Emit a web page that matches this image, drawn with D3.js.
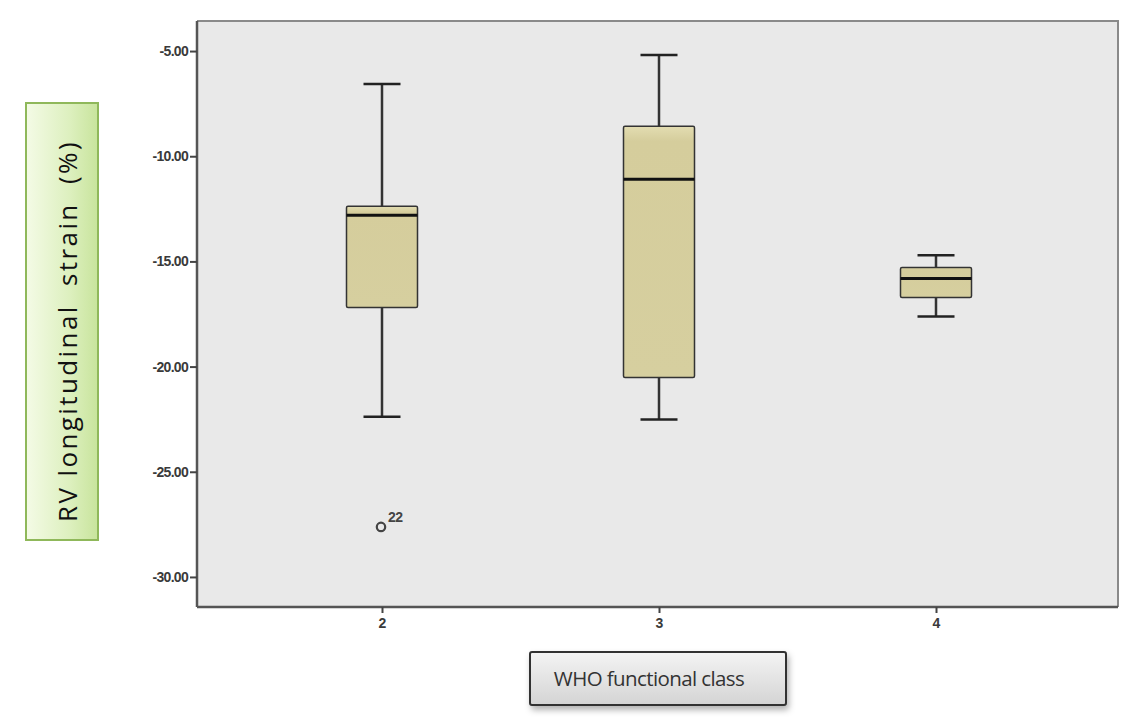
<!DOCTYPE html>
<html>
<head>
<meta charset="utf-8">
<script src="https://cdn.jsdelivr.net/npm/d3@7"></script>
<style>
  html, body { margin: 0; padding: 0; background: #ffffff; }
  svg { display: block; }
</style>
</head>
<body>
<svg id="chart" width="1128" height="723"></svg>
<script>
// ---- Data ----
const categories = ["2", "3", "4"];
const whiskerHigh = [-6.57, -5.19, -14.71];
const q3 = [-12.38, -8.57, -15.29];
const medians = [-12.81, -11.10, -15.81];
const q1 = [-17.19, -20.52, -16.71];
const whiskerLow = [-22.38, -22.52, -17.62];
const outlierCategory = ["2"];
const outlierValue = [-27.62];
const outlierLabel = ["22"];
const yTicks = [-5, -10, -15, -20, -25, -30];
const yTitle = "RV longitudinal  strain  (%)";
const xTitle = "WHO functional class";

// ---- Layout ----
const svg = d3.select("#chart");
const plot = { left: 197, top: 21, right: 1118, bottom: 607 };

const defs = svg.append("defs");
const gGreen = defs.append("linearGradient").attr("id", "gGreen").attr("x1", "0").attr("x2", "1").attr("y1", "0").attr("y2", "0");
gGreen.append("stop").attr("offset", "0%").attr("stop-color", "#f4fbe6");
gGreen.append("stop").attr("offset", "60%").attr("stop-color", "#ddf0bf");
gGreen.append("stop").attr("offset", "100%").attr("stop-color", "#c8e49c");
const gGray = defs.append("linearGradient").attr("id", "gGray").attr("x1", "0").attr("x2", "0").attr("y1", "0").attr("y2", "1");
gGray.append("stop").attr("offset", "0%").attr("stop-color", "#f4f4f4");
gGray.append("stop").attr("offset", "100%").attr("stop-color", "#d4d4d4");
const gBox = defs.append("linearGradient").attr("id", "gBox").attr("x1", "0").attr("x2", "0").attr("y1", "0").attr("y2", "1");
gBox.append("stop").attr("offset", "0%").attr("stop-color", "#e3ddb2");
gBox.append("stop").attr("offset", "6%").attr("stop-color", "#d5cd9c");
gBox.append("stop").attr("offset", "100%").attr("stop-color", "#d6cf9f");
const shadow = defs.append("filter").attr("id", "shadow").attr("x", "-10%").attr("y", "-20%").attr("width", "130%").attr("height", "160%");
shadow.append("feDropShadow").attr("dx", 2).attr("dy", 4).attr("stdDeviation", 3).attr("flood-color", "#000").attr("flood-opacity", 0.3);

// ---- Scales ----
const y = d3.scaleLinear().domain([-30 - 30 / 21, -5 + 30 / 21]).range([plot.bottom, plot.top]);
const x = d3.scalePoint().domain(categories).range([382, 936]);

// plot background
svg.append("rect")
  .attr("x", plot.left).attr("y", plot.top)
  .attr("width", plot.right - plot.left).attr("height", plot.bottom - plot.top)
  .attr("fill", "#e9e9e9");

// frame: top & right (lighter)
svg.append("path")
  .attr("d", `M${plot.left},${plot.top}H${plot.right}V${plot.bottom}`)
  .attr("fill", "none").attr("stroke", "#8a8a8a").attr("stroke-width", 2);

// ---- Axes ----
const fmt = d => d3.format(".2f")(d).replace("\u2212", "-");
const yAxis = d3.axisLeft(y).tickValues(yTicks).tickSize(7).tickPadding(2).tickFormat(fmt);
const gy = svg.append("g").attr("transform", `translate(${plot.left},0)`).call(yAxis);
gy.select(".domain").attr("stroke", "#555").attr("stroke-width", 2.5)
  .attr("d", `M0,${plot.top}V${plot.bottom}`);
gy.selectAll(".tick line").attr("stroke", "#444").attr("stroke-width", 2);
gy.selectAll(".tick text")
  .attr("font-family", "Liberation Sans, Arial, sans-serif")
  .attr("font-size", 14).attr("font-weight", "bold").attr("fill", "#3a3a3a")
  .attr("letter-spacing", "-0.7px");

const xAxis = d3.axisBottom(x).tickSize(6).tickPadding(5);
const gx = svg.append("g").attr("transform", `translate(0,${plot.bottom})`).call(xAxis);
gx.select(".domain").attr("stroke", "#555").attr("stroke-width", 2.5)
  .attr("d", `M${plot.left},0H${plot.right}`);
gx.selectAll(".tick line").attr("stroke", "#444").attr("stroke-width", 2);
gx.selectAll(".tick text")
  .attr("font-family", "Liberation Sans, Arial, sans-serif")
  .attr("font-size", 14).attr("font-weight", "bold").attr("fill", "#3a3a3a");

// ---- Boxes ----
const boxW = 71, capW = 37;
const boxes = categories.map((c, i) => ({
  c, hi: whiskerHigh[i], q3: q3[i], med: medians[i], q1: q1[i], lo: whiskerLow[i]
}));
const g = svg.append("g");
const bg = g.selectAll("g.box").data(boxes).join("g").attr("class", "box");

bg.append("line")
  .attr("x1", d => x(d.c)).attr("x2", d => x(d.c))
  .attr("y1", d => y(d.hi)).attr("y2", d => y(d.q3))
  .attr("stroke", "#333").attr("stroke-width", 2.5);
bg.append("line")
  .attr("x1", d => x(d.c)).attr("x2", d => x(d.c))
  .attr("y1", d => y(d.q1)).attr("y2", d => y(d.lo))
  .attr("stroke", "#333").attr("stroke-width", 2.5);
bg.append("line")
  .attr("x1", d => x(d.c) - capW / 2).attr("x2", d => x(d.c) + capW / 2)
  .attr("y1", d => y(d.hi)).attr("y2", d => y(d.hi))
  .attr("stroke", "#222").attr("stroke-width", 2.5);
bg.append("line")
  .attr("x1", d => x(d.c) - capW / 2).attr("x2", d => x(d.c) + capW / 2)
  .attr("y1", d => y(d.lo)).attr("y2", d => y(d.lo))
  .attr("stroke", "#222").attr("stroke-width", 2.5);
bg.append("rect")
  .attr("x", d => x(d.c) - boxW / 2).attr("width", boxW)
  .attr("y", d => y(d.q3)).attr("height", d => y(d.q1) - y(d.q3))
  .attr("fill", "url(#gBox)").attr("stroke", "#333").attr("stroke-width", 1.5)
  .attr("rx", 1.5);
bg.append("line")
  .attr("x1", d => x(d.c) - boxW / 2).attr("x2", d => x(d.c) + boxW / 2)
  .attr("y1", d => y(d.med)).attr("y2", d => y(d.med))
  .attr("stroke", "#111").attr("stroke-width", 3);

// outliers
const outliers = outlierCategory.map((c, i) => ({ c, v: outlierValue[i], label: outlierLabel[i] }));
g.selectAll("circle.out").data(outliers).join("circle")
  .attr("class", "out")
  .attr("cx", d => x(d.c) - 1).attr("cy", d => y(d.v))
  .attr("r", 4.2).attr("fill", "none").attr("stroke", "#444").attr("stroke-width", 2.2);
g.selectAll("text.outlab").data(outliers).join("text")
  .attr("class", "outlab")
  .attr("x", d => x(d.c) + 6).attr("y", d => y(d.v) - 5)
  .attr("font-family", "Liberation Sans, Arial, sans-serif")
  .attr("font-size", 14).attr("font-weight", "bold").attr("fill", "#444")
  .attr("letter-spacing", "-0.6px")
  .text(d => d.label);

// ---- Y title box ----
svg.append("rect")
  .attr("x", 26).attr("y", 103).attr("width", 72).attr("height", 437)
  .attr("fill", "url(#gGreen)").attr("stroke", "#8fb85a").attr("stroke-width", 2);
svg.append("text")
  .attr("transform", `translate(77,331) rotate(-90)`)
  .attr("text-anchor", "middle")
  .attr("font-family", "Open Sans, Liberation Sans, sans-serif")
  .attr("font-size", 26).attr("fill", "#111")
  .attr("letter-spacing", "2.4px")
  .style("white-space", "pre")
  .text(yTitle);

// ---- X title box ----
svg.append("rect")
  .attr("x", 530).attr("y", 652).attr("width", 256).attr("height", 53)
  .attr("rx", 2)
  .attr("fill", "url(#gGray)").attr("stroke", "#333").attr("stroke-width", 2)
  .attr("filter", "url(#shadow)");
svg.append("text")
  .attr("x", 649).attr("y", 686)
  .attr("text-anchor", "middle")
  .attr("font-family", "Open Sans, Liberation Sans, sans-serif")
  .attr("font-size", 20.5).attr("fill", "#333")
  .attr("letter-spacing", "-0.6px")
  .text(xTitle);
</script>
</body>
</html>
